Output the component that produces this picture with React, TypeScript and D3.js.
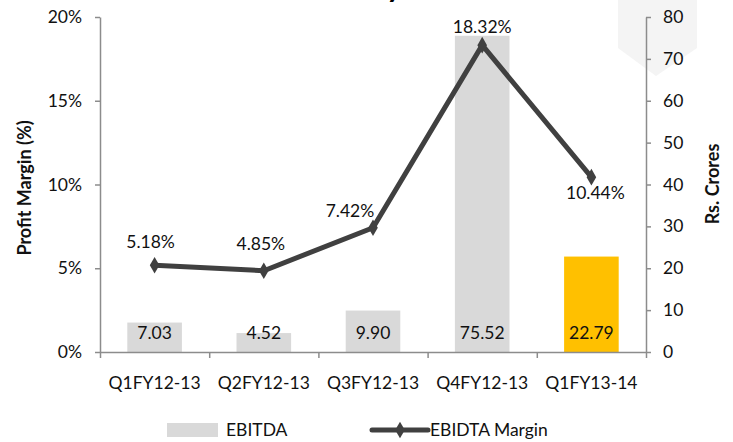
import React, { useEffect, useRef } from "react";
import * as d3 from "d3";

const categories = ["Q1FY12-13", "Q2FY12-13", "Q3FY12-13", "Q4FY12-13", "Q1FY13-14"];
const ebitda = [7.03, 4.52, 9.9, 75.52, 22.79];
const margin = [5.18, 4.85, 7.42, 18.32, 10.44];
const leftTicks = [0, 5, 10, 15, 20];
const rightTicks = [0, 10, 20, 30, 40, 50, 60, 70, 80];

const FONT = "Lato, 'Open Sans', sans-serif";

const App: React.FC = () => {
  const svgRef = useRef<SVGSVGElement>(null);

  useEffect(() => {
    const svg = d3.select(svgRef.current);
    svg.selectAll("*").remove();

    const W = 733;
    const H = 442;
    const m = { top: 17, right: 87, bottom: 90, left: 100 };
    const innerW = W - m.left - m.right;
    const innerH = H - m.top - m.bottom;

    // light decorative banner top-right
    svg
      .append("polygon")
      .attr("points", "618,0 697,0 697,48 656,76 618,48")
      .attr("fill", "#f4f4f4");

    // title, clipped by the top edge (only the descender shows)
    svg
      .append("text")
      .attr("x", 402)
      .attr("y", -3)
      .attr("text-anchor", "end")
      .attr("font-family", FONT)
      .attr("font-weight", "bold")
      .attr("font-size", 30)
      .text("Profitability");

    const g = svg.append("g").attr("transform", `translate(${m.left},${m.top})`);

    const x = d3.scaleBand<string>().domain(categories).range([0, innerW]).paddingInner(0.5).paddingOuter(0.25);
    const xEdge = d3.scaleLinear().domain([0, categories.length]).range([0, innerW]);
    const yL = d3.scaleLinear().domain([0, 20]).range([innerH, 0]);
    const yR = d3.scaleLinear().domain([0, 80]).range([innerH, 0]);

    // bars
    g.selectAll("rect.bar")
      .data(ebitda)
      .enter()
      .append("rect")
      .attr("class", "bar")
      .attr("x", (_, i) => x(categories[i])!)
      .attr("width", x.bandwidth())
      .attr("y", (d) => yR(d))
      .attr("height", (d) => innerH - yR(d))
      .attr("fill", (_, i) => (i === categories.length - 1 ? "#ffc000" : "#d9d9d9"));

    // bar labels near base
    g.selectAll("text.barlab")
      .data(ebitda)
      .enter()
      .append("text")
      .attr("class", "barlab")
      .attr("x", (_, i) => x(categories[i])! + x.bandwidth() / 2)
      .attr("y", innerH - 13)
      .attr("text-anchor", "middle")
      .attr("font-family", FONT)
      .attr("font-size", 17.5)
      .attr("fill", "#111")
      .text((d) => d.toFixed(2));

    const axisColor = "#8c8c8c";

    const left = g.append("g").call(d3.axisLeft(yL).tickValues(leftTicks).tickSize(5).tickSizeOuter(0).tickFormat((d) => `${d}%`));
    const right = g
      .append("g")
      .attr("transform", `translate(${innerW},0)`)
      .call(d3.axisRight(yR).tickValues(rightTicks).tickSize(5).tickSizeOuter(0));
    const bottom = g
      .append("g")
      .attr("transform", `translate(0,${innerH})`)
      .call(d3.axisBottom(xEdge).ticks(categories.length).tickSize(6).tickSizeOuter(0).tickFormat(() => ""));

    [left, right, bottom].forEach((a) => {
      a.selectAll("path,line").attr("stroke", axisColor).attr("stroke-width", 1.5);
      a.selectAll("text").attr("font-family", FONT).attr("font-size", 17.5).attr("fill", "#111");
    });
    left.selectAll("text").attr("x", -18);
    right.selectAll("text").attr("x", 17);

    // category labels
    g.selectAll("text.cat")
      .data(categories)
      .enter()
      .append("text")
      .attr("class", "cat")
      .attr("x", (d) => x(d)! + x.bandwidth() / 2)
      .attr("y", innerH + 37)
      .attr("text-anchor", "middle")
      .attr("font-family", FONT)
      .attr("font-size", 17.5)
      .attr("fill", "#111")
      .text((d) => d);

    // line
    const cx = (i: number) => x(categories[i])! + x.bandwidth() / 2;
    const line = d3
      .line<number>()
      .x((_, i) => cx(i))
      .y((d) => yL(d));
    g.append("path")
      .datum(margin)
      .attr("d", line)
      .attr("fill", "none")
      .attr("stroke", "#404040")
      .attr("stroke-width", 5)
      .attr("stroke-linejoin", "miter");

    g.selectAll("path.mk")
      .data(margin)
      .enter()
      .append("path")
      .attr("class", "mk")
      .attr("d", d3.symbol().type(d3.symbolDiamond).size(80)())
      .attr("transform", (d, i) => `translate(${cx(i)},${yL(d)})`)
      .attr("fill", "#404040");

    // label offsets relative to points
    const labelOffset = [
      [-4, -17],
      [-3, -21],
      [-23, -11],
      [0, -12],
      [4, 22],
    ];
    g.selectAll("text.ml")
      .data(margin)
      .enter()
      .append("text")
      .attr("class", "ml")
      .attr("x", (_, i) => cx(i) + labelOffset[i][0])
      .attr("y", (d, i) => yL(d) + labelOffset[i][1])
      .attr("text-anchor", "middle")
      .attr("font-family", FONT)
      .attr("font-size", 17.5)
      .attr("fill", "#111")
      .text((d) => `${d.toFixed(2)}%`);

    // axis titles
    svg
      .append("text")
      .attr("transform", `translate(31,188) rotate(-90)`)
      .attr("text-anchor", "middle")
      .attr("font-family", FONT)
      .attr("font-weight", "bold")
      .attr("font-size", 18)
      .attr("fill", "#111")
      .text("Profit Margin (%)");
    svg
      .append("text")
      .attr("transform", `translate(719,184) rotate(-90)`)
      .attr("text-anchor", "middle")
      .attr("font-family", FONT)
      .attr("font-weight", "bold")
      .attr("font-size", 18)
      .attr("fill", "#111")
      .text("Rs. Crores");

    // legend
    const lg = svg.append("g").attr("transform", "translate(0,430)");
    lg.append("rect").attr("x", 167).attr("y", -7).attr("width", 51).attr("height", 14).attr("fill", "#d9d9d9");
    lg.append("text").attr("x", 226).attr("y", 6).attr("font-family", FONT).attr("font-size", 17.5).attr("fill", "#111").text("EBITDA");
    lg.append("line").attr("x1", 372).attr("x2", 428).attr("y1", 0).attr("y2", 0).attr("stroke", "#404040").attr("stroke-width", 5).attr("stroke-linecap", "round");
    lg.append("path").attr("d", d3.symbol().type(d3.symbolDiamond).size(80)()).attr("transform", "translate(400,0)").attr("fill", "#404040");
    lg.append("text").attr("x", 430).attr("y", 6).attr("font-family", FONT).attr("font-size", 17.5).attr("fill", "#111").text("EBIDTA Margin");

    return () => {
      svg.selectAll("*").remove();
    };
  }, []);

  return (
    <svg
      ref={svgRef}
      width={733}
      height={442}
      style={{ position: "absolute", left: 0, top: 0, background: "#fff" }}
    />
  );
};

export default App;
